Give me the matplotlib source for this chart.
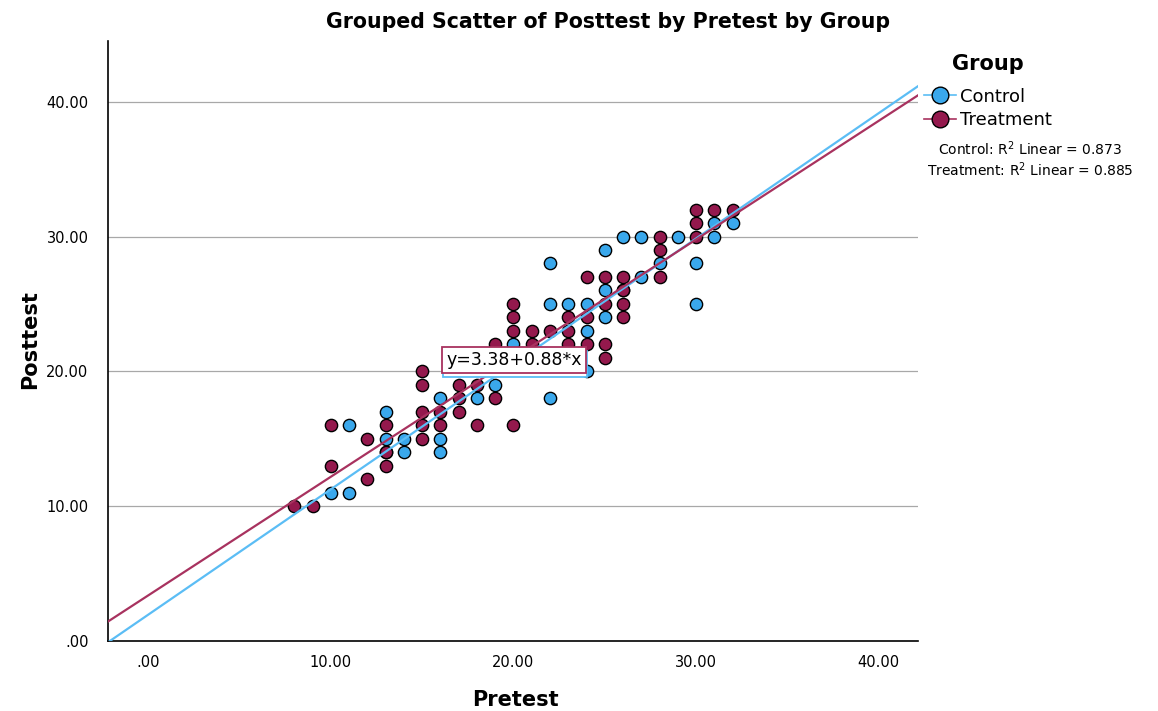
import matplotlib
matplotlib.use("Agg")
import matplotlib.pyplot as plt
import matplotlib.transforms as mtransforms
from matplotlib.lines import Line2D
from matplotlib.patches import Rectangle
import numpy as np

# Scatter values (pretest, posttest)
control_pre = [10, 11, 11, 13, 13, 13, 14, 14, 16, 16, 16, 18, 19, 20, 22, 22, 22,
               23, 24, 24, 24, 25, 25, 25, 26, 26, 27, 27, 28, 29, 30, 30, 31, 31, 32]
control_post = [11, 11, 16, 17, 15, 14, 15, 14, 18, 15, 14, 18, 19, 22, 28, 25, 18,
                25, 25, 23, 20, 29, 26, 24, 30, 26, 30, 27, 28, 30, 28, 25, 31, 30, 31]

treat_pre = [8, 9, 10, 10, 12, 12, 13, 13, 13, 15, 15, 15, 15, 15, 16, 16, 17, 17, 17,
             18, 18, 19, 19, 20, 20, 20, 20, 21, 21, 22, 23, 23, 23, 24, 24, 24,
             25, 25, 25, 25, 26, 26, 26, 26, 28, 28, 28, 30, 30, 30, 31, 32]
treat_post = [10, 10, 16, 13, 15, 12, 16, 14, 13, 20, 19, 17, 16, 15, 17, 16, 19, 18, 17,
              19, 16, 22, 18, 25, 24, 23, 16, 23, 22, 23, 24, 23, 22, 27, 24, 22,
              27, 25, 22, 21, 27, 26, 25, 24, 30, 29, 27, 32, 31, 30, 32, 32]

# fit lines (intercept, slope) and R squared as shown
control_fit = (1.95, 0.93)
treat_fit = (3.38, 0.88)
control_r2 = 0.873
treat_r2 = 0.885

x_ticks = [0, 10, 20, 30, 40]
y_ticks = [0, 10, 20, 30, 40]
x_ticklabels = [".00", "10.00", "20.00", "30.00", "40.00"]
y_ticklabels = [".00", "10.00", "20.00", "30.00", "40.00"]

blue = "#3aa8ec"
maroon = "#94194d"
blue_line = "#5bbdf5"
maroon_line = "#a8325f"

plt.rcParams["font.family"] = ["DejaVu Sans"]

fig = plt.figure(figsize=(11.58, 7.11), dpi=100)
W, H = 1158, 711
ax = fig.add_axes([108 / W, 1 - 641 / H, (918 - 108) / W, (641 - 41) / H])

xmin, xmax = -2.2, 42.15
ax.set_xlim(xmin, xmax)
ax.set_ylim(0, 44.5)

# gridlines
for yv in y_ticks[1:]:
    ax.axhline(yv, color="#a8a8a8", lw=0.9, zorder=0)

ax.scatter(control_pre, control_post, s=78, color=blue, edgecolor="black",
           linewidth=1.0, zorder=3)
ax.scatter(treat_pre, treat_post, s=78, color=maroon, edgecolor="black",
           linewidth=1.0, zorder=3)

xs = np.array([xmin, xmax])
ax.plot(xs, control_fit[0] + control_fit[1] * xs, color=blue_line, lw=1.6, zorder=4)
ax.plot(xs, treat_fit[0] + treat_fit[1] * xs, color=maroon_line, lw=1.6, zorder=4)

# equation label, with the blue box peeking out behind the maroon one
eq = "y=%.2f+%.2f*x" % treat_fit
eq_text = ax.text(20.05, 20.85, eq, ha="center", va="center", fontsize=12.5,
                  color="black", zorder=6,
                  bbox=dict(boxstyle="square,pad=0.25", fc="white", ec=maroon_line,
                            lw=1.3))
fig.canvas.draw()
bb = eq_text.get_bbox_patch().get_window_extent()
ax.add_patch(Rectangle((bb.x0 + 1, bb.y0 - 4), bb.width, bb.height,
                       transform=mtransforms.IdentityTransform(), fc="white",
                       ec=blue_line, lw=1.3, zorder=5))

ax.set_xticks(x_ticks)
ax.set_xticklabels(x_ticklabels, fontsize=10.5)
ax.set_yticks(y_ticks)
ax.set_yticklabels(y_ticklabels, fontsize=10.5)
ax.tick_params(axis="both", length=0)
ax.tick_params(axis="x", pad=10)
ax.tick_params(axis="y", pad=14)
for s in ["top", "right"]:
    ax.spines[s].set_visible(False)
for s in ["left", "bottom"]:
    ax.spines[s].set_linewidth(1.2)

fig.text(608 / W, 1 - 22 / H, "Grouped Scatter of Posttest by Pretest by Group",
         ha="center", va="center", fontsize=14.8, fontweight="bold")
fig.text(515 / W, 1 - 700 / H, "Pretest", ha="center", va="center",
         fontsize=15, fontweight="bold")
fig.text(30 / W, 1 - 340 / H, "Posttest", ha="center", va="center",
         fontsize=15, fontweight="bold", rotation=90)

# legend
fig.text(988 / W, 1 - 64 / H, "Group", ha="center", va="center",
         fontsize=15, fontweight="bold")
handles = [
    Line2D([], [], color=blue_line, lw=1.2, marker="o", markersize=12,
           markerfacecolor=blue, markeredgecolor="black"),
    Line2D([], [], color=maroon_line, lw=1.2, marker="o", markersize=12,
           markerfacecolor=maroon, markeredgecolor="black"),
]
fig.legend(handles, ["Control", "Treatment"], loc="upper left",
           bbox_to_anchor=(911 / W, 1 - 75 / H), frameon=False, fontsize=13,
           handlelength=1.8, handletextpad=0.2, labelspacing=0.3, borderpad=0.2)

fig.text(1030 / W, 1 - 149 / H, "Control: R$^2$ Linear = %.3f" % control_r2,
         ha="center", va="center", fontsize=10)
fig.text(1030 / W, 1 - 170 / H, "Treatment: R$^2$ Linear = %.3f" % treat_r2,
         ha="center", va="center", fontsize=10)

fig.savefig("out.png", dpi=100)
